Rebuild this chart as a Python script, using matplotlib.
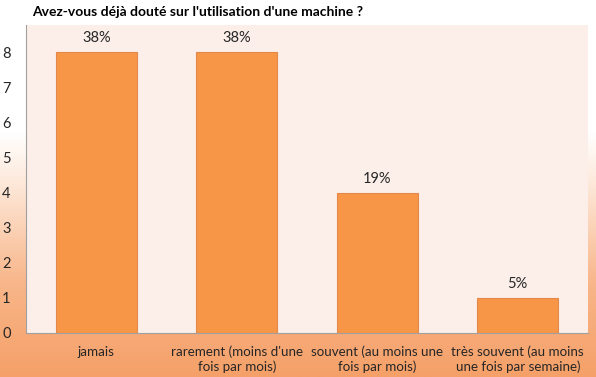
import numpy as np
import matplotlib.pyplot as plt
from matplotlib.colors import LinearSegmentedColormap

# Données
categories = ['jamais', "rarement (moins d'une\nfois par mois)",
              'souvent (au moins une\nfois par mois)', 'très souvent (au moins\nune fois par semaine)']
valeurs = [8, 8, 4, 1]
pourcentages = ['38%', '38%', '19%', '5%']

plt.rcParams['font.family'] = ['Lato', 'DejaVu Sans']

fig = plt.figure(figsize=(5.96, 3.77), dpi=100)

# Fond dégradé (blanc en haut, orange en bas)
bg = fig.add_axes([0, 0, 1, 1], zorder=0)
cmap = LinearSegmentedColormap.from_list('fond', [(0, '#f5a068'), (0.25, '#f8b68a'),
                                                   (0.5, '#fde6d6'), (0.65, '#ffffff'), (1, '#ffffff')])
grad = np.linspace(0, 1, 256).reshape(-1, 1)
bg.imshow(grad, cmap=cmap, aspect='auto', origin='lower', extent=[0, 1, 0, 1])
bg.axis('off')

ax = fig.add_axes([26 / 596, 1 - 333 / 377, 562 / 596, 308 / 377], zorder=1)
ax.set_facecolor('#fcefe9')
x = np.arange(len(categories))
barres = ax.bar(x, valeurs, width=0.577, color='#f79646', edgecolor='#e3884a', linewidth=0.8)

for b, p in zip(barres, pourcentages):
    ax.text(b.get_x() + b.get_width() / 2, b.get_height() + 0.2, p,
            ha='center', va='bottom', fontsize=10.5, color='#262626')

ax.set_xlim(-0.5, 3.5)
ax.set_ylim(0, 8.78)
ax.set_yticks(range(0, 9))
ax.set_xticks(x)
ax.set_xticklabels(categories, fontsize=9.6, color='#262626', linespacing=1.2)
ax.tick_params(axis='y', length=0, pad=11, labelsize=10.5, labelcolor='#262626')
ax.tick_params(axis='x', length=0, pad=9)
for s in ['top', 'right']:
    ax.spines[s].set_visible(False)
ax.spines['left'].set_color('#a0a0a0')
ax.spines['bottom'].set_color('#a0a0a0')

fig.text(32 / 596, 1 - 12 / 377, "Avez-vous déjà douté sur l'utilisation d'une machine ?",
         fontsize=10, fontweight='bold', color='#000000', va='center', ha='left')

fig.savefig('out.png', dpi=100)
